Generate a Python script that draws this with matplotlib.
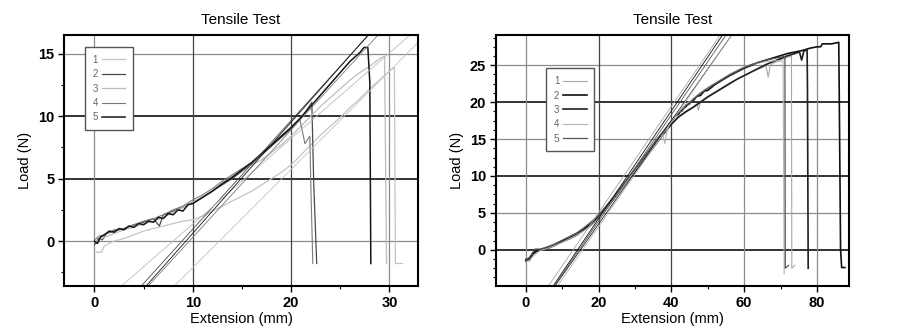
import matplotlib.pyplot as plt
from matplotlib.ticker import MultipleLocator, AutoMinorLocator

plt.rcParams['font.family'] = ['Liberation Sans', 'DejaVu Sans']

# ---- left test (short specimens) ----
l1_x = [0, 0.7, 1, 2, 3, 4, 5, 6, 7, 8, 9, 10, 11, 12, 13, 14, 15, 16, 17, 18, 19, 20, 21, 22, 23, 24, 25, 26, 27, 28, 29, 30, 30.5, 30.6, 31.3]
l1_y = [-0.9, -0.9, -0.4, 0.0, 0.2, 0.5, 0.8, 1.0, 1.2, 1.4, 1.6, 1.7, 2.0, 2.4, 2.8, 3.2, 3.6, 4.0, 4.5, 5.0, 5.5, 6.1, 6.9, 7.7, 8.5, 9.2, 9.9, 10.7, 11.4, 12.2, 12.9, 13.6, 13.9, -1.8, -1.8]
l2_x = [0, 0.4, 0.8, 1.2, 2, 3, 4, 5, 6, 6.6, 7, 8, 9, 10, 11, 12, 13, 14, 15, 16, 17, 18, 19, 20, 21, 21.6, 22.1, 22.3, 22.6]
l2_y = [-0.3, 0.2, 0.1, 0.6, 0.8, 1.0, 1.3, 1.5, 1.8, 1.2, 2.1, 2.4, 2.7, 3.1, 3.5, 4.0, 4.5, 5.0, 5.6, 6.2, 6.9, 7.6, 8.3, 9.0, 9.9, 10.5, 11.1, 4.5, -1.8]
l3_x = [0, 1, 2, 3, 4, 5, 6, 7, 8, 9, 10, 11, 12, 13, 14, 15, 15.5, 16, 17, 18, 19, 20, 21, 22, 23, 24, 25, 26, 27, 28, 29, 29.5, 29.7]
l3_y = [-0.1, 0.3, 0.6, 0.9, 1.1, 1.4, 1.6, 1.9, 2.3, 2.7, 3.1, 3.5, 4.0, 4.6, 5.2, 5.7, 6.0, 6.1, 6.5, 7.1, 7.7, 8.4, 9.2, 10.0, 10.8, 11.5, 12.2, 12.9, 13.5, 14.0, 14.6, 14.8, -1.8]
l4_x = [0, 0.5, 1, 2, 3, 4, 5, 6, 7, 8, 9, 10, 11, 12, 13, 14, 15, 16, 17, 18, 19, 20, 20.5, 20.9, 21.4, 21.9, 22.0, 22.2]
l4_y = [0.1, 0.4, 0.5, 0.9, 1.0, 1.3, 1.6, 1.8, 2.1, 2.5, 2.8, 3.3, 3.7, 4.2, 4.8, 5.3, 5.8, 6.3, 7.0, 7.7, 8.4, 9.1, 9.5, 9.7, 7.8, 8.4, 4.5, -1.8]
l5_x = [0, 0.3, 0.6, 1, 1.5, 2, 2.5, 3, 3.5, 4, 4.5, 5, 5.5, 6, 6.5, 7, 7.5, 8, 8.5, 9, 9.5, 10, 11, 12, 13, 14, 15, 16, 17, 18, 19, 20, 21, 22, 23, 24, 25, 26, 27, 27.4, 27.8, 28.0, 28.1]
l5_y = [0.0, -0.2, 0.3, 0.5, 0.8, 0.7, 1.0, 0.9, 1.2, 1.1, 1.4, 1.3, 1.6, 1.5, 1.9, 1.8, 2.2, 2.1, 2.5, 2.4, 2.9, 3.0, 3.5, 4.0, 4.6, 5.1, 5.7, 6.3, 7.0, 7.7, 8.4, 9.1, 9.9, 10.8, 11.7, 12.6, 13.5, 14.4, 15.1, 15.5, 15.5, 12.7, -1.8]
# straight fit lines: x where load = 0, and slope (N/mm)
l_fit_x0 = [12.7, 8.9, 8.0, 9.65, 9.3]
l_fit_slope = [0.787, 0.87, 0.685, 0.86, 0.89]

# ---- right test (long specimens) ----
r1_x = [0, 1, 2, 3, 4, 6, 8, 10, 12, 14, 16, 18, 20, 22, 24, 26, 28, 30, 32, 34, 36, 38, 40, 42, 44, 46, 47.0, 47.4, 48, 50, 52, 54, 56, 58, 60, 62, 64, 66, 66.6, 67.2, 68, 70, 72, 73.0, 73.1, 73.9]
r1_y = [-1.6, -1.5, -0.6, -0.2, 0.1, 0.4, 0.8, 1.3, 1.7, 2.2, 2.9, 3.5, 4.5, 5.7, 6.9, 8.2, 9.5, 10.8, 12.1, 13.4, 14.7, 16.0, 17.2, 18.1, 18.8, 19.4, 19.8, 18.9, 20.1, 20.8, 21.4, 22.0, 22.6, 23.1, 23.6, 24.1, 24.5, 24.9, 23.4, 25.0, 25.3, 25.7, 26.1, 26.3, -2.5, -2.1]
r2_x = [0, 0.5, 1, 1.5, 2, 3, 4, 6, 8, 10, 12, 14, 16, 18, 20, 22, 24, 26, 28, 30, 32, 34, 36, 38, 40, 41, 42, 43, 44, 45, 46, 47, 48, 49, 50, 52, 54, 56, 58, 60, 62, 64, 66, 68, 70, 72, 74, 76, 78, 80, 81, 81.5, 84, 86.0, 86.1, 86.5, 86.8, 87.7]
r2_y = [-1.5, -1.3, -1.4, -0.8, -0.4, -0.1, 0.0, 0.3, 0.7, 1.2, 1.6, 2.1, 2.8, 3.6, 4.6, 5.8, 7.0, 8.3, 9.6, 10.9, 12.2, 13.5, 14.9, 16.1, 17.4, 18.1, 18.4, 19.1, 19.4, 20.0, 20.2, 20.8, 20.9, 21.5, 21.6, 22.4, 23.0, 23.6, 24.1, 24.6, 25.0, 25.4, 25.7, 26.0, 26.3, 26.6, 26.8, 27.0, 27.3, 27.5, 27.5, 27.9, 27.9, 28.1, 23.0, 0.0, -2.4, -2.4]
r3_x = [0, 1, 2, 3, 4, 6, 8, 10, 12, 14, 16, 18, 20, 22, 24, 26, 28, 30, 32, 34, 36, 38, 40, 42, 44, 46, 48, 50, 52, 54, 56, 58, 60, 62, 64, 66, 68, 70, 72, 74, 75.2, 75.8, 76.4, 77.3, 77.4, 77.6]
r3_y = [-1.3, -1.2, -0.5, -0.3, 0.0, 0.2, 0.6, 1.1, 1.5, 2.0, 2.7, 3.4, 4.4, 5.6, 6.8, 8.1, 9.4, 10.6, 11.9, 13.2, 14.5, 15.8, 17.0, 18.0, 18.7, 19.3, 20.0, 20.7, 21.3, 21.9, 22.5, 23.1, 23.6, 24.1, 24.6, 25.1, 25.5, 25.9, 26.3, 26.6, 26.8, 25.7, 26.9, 27.1, 22.0, -2.5]
r4_x = [0, 1, 2, 3, 4, 6, 8, 10, 12, 14, 16, 18, 20, 22, 24, 26, 28, 30, 32, 34, 36, 37.6, 38.2, 38.8, 40, 42, 44, 46, 48, 50, 52, 54, 56, 58, 60, 62, 64, 66, 68, 70, 70.7, 71.0]
r4_y = [-1.7, -1.4, -0.9, -0.4, -0.1, 0.2, 0.6, 1.0, 1.5, 2.0, 2.6, 3.3, 4.3, 5.5, 6.8, 8.1, 9.4, 10.7, 12.0, 13.3, 14.6, 15.6, 14.4, 16.2, 17.6, 18.7, 19.7, 20.5, 21.3, 22.0, 22.6, 23.2, 23.8, 24.3, 24.8, 25.1, 25.3, 25.5, 25.6, 25.6, 25.5, -3.2]
r5_x = [0, 1, 2, 2.5, 4, 6, 8, 10, 12, 14, 16, 18, 20, 22, 24, 26, 28, 30, 32, 34, 36, 38, 40, 42, 43, 44, 45, 46, 48, 50, 52, 54, 56, 58, 60, 62, 64, 66, 68, 70, 71.2, 71.3, 72.2]
r5_y = [-1.4, -1.0, -0.3, 0.1, 0.1, 0.4, 0.8, 1.3, 1.8, 2.3, 3.0, 3.8, 4.7, 5.9, 7.1, 8.4, 9.7, 11.0, 12.3, 13.6, 14.9, 16.2, 17.5, 18.6, 18.8, 19.6, 19.7, 20.4, 21.2, 21.9, 22.5, 23.1, 23.7, 24.2, 24.7, 25.1, 25.4, 25.7, 25.9, 26.1, 26.2, -2.5, -2.1]
r_fit_x0 = [13.0, 14.2, 15.0, 15.6, 14.6]
r_fit_slope = [0.72, 0.73, 0.70, 0.71, 0.72]

labels = ['1', '2', '3', '4', '5']
l_colors = ['#c4c4c4', '#4a4a4a', '#bdbdbd', '#7a7a7a', '#151515']
l_widths = [0.9, 0.9, 0.9, 0.8, 1.1]
r_colors = ['#a8a8a8', '#101010', '#202020', '#b4b4b4', '#555555']
r_widths = [0.8, 1.2, 1.2, 0.8, 0.9]

fig = plt.figure(figsize=(9.04, 3.32), dpi=100)
ax1 = fig.add_axes([0.0708, 0.1386, 0.3916, 0.756])
ax2 = fig.add_axes([0.5483, 0.1386, 0.3912, 0.756])


def style_axes(ax, xmaj, ymaj, yminor, dark_y, dark_x):
    ax.xaxis.set_major_locator(MultipleLocator(xmaj))
    ax.xaxis.set_minor_locator(AutoMinorLocator(2))
    ax.yaxis.set_major_locator(MultipleLocator(ymaj))
    ax.yaxis.set_minor_locator(AutoMinorLocator(yminor))
    ax.tick_params(which='major', direction='out', length=4, width=1, labelsize=10.5, pad=3)
    ax.tick_params(which='minor', direction='out', length=2.5, width=0.8)
    for lab in ax.get_xticklabels() + ax.get_yticklabels():
        lab.set_fontweight('bold')
    for sp in ax.spines.values():
        sp.set_linewidth(1.5)
    for v in ax.get_yticks():
        if ax.get_ylim()[0] < v < ax.get_ylim()[1]:
            if v in dark_y:
                ax.axhline(v, color='#111111', lw=1.2, zorder=0)
            else:
                ax.axhline(v, color='#8c8c8c', lw=0.9, zorder=0)
    for v in ax.get_xticks():
        if ax.get_xlim()[0] < v < ax.get_xlim()[1]:
            ax.axvline(v, color='#444444' if v in dark_x else '#8c8c8c', lw=0.9, zorder=0)
    ax.set_title('Tensile Test', fontsize=11, pad=8)
    ax.set_xlabel('Extension (mm)', fontsize=10.5, labelpad=2)
    ax.set_ylabel('Load (N)', fontsize=10.5, labelpad=4)


# left
l_curves = [(l1_x, l1_y), (l2_x, l2_y), (l3_x, l3_y), (l4_x, l4_y), (l5_x, l5_y)]
for (xs, ys), c, w, lab in zip(l_curves, l_colors, l_widths, labels):
    ax1.plot(xs, ys, color=c, lw=w, label=lab)
for x0, k, c in zip(l_fit_x0, l_fit_slope, l_colors):
    ax1.axline((x0, 0), slope=k, color=c, lw=0.6)
ax1.set_xlim(-3.1, 32.9)
ax1.set_ylim(-3.6, 16.5)
style_axes(ax1, 10, 5, 2, [5, 10], [10, 20])

# right
r_curves = [(r1_x, r1_y), (r2_x, r2_y), (r3_x, r3_y), (r4_x, r4_y), (r5_x, r5_y)]
for (xs, ys), c, w, lab in zip(r_curves, r_colors, r_widths, labels):
    ax2.plot(xs, ys, color=c, lw=w, label=lab)
for x0, k, c in zip(r_fit_x0, r_fit_slope, r_colors):
    ax2.axline((x0, 0), slope=k, color=c, lw=0.6)
ax2.set_xlim(-8.3, 88.9)
ax2.set_ylim(-4.9, 29.1)
style_axes(ax2, 20, 5, 4, [0, 10, 20], [20, 40])

for ax, pos in [(ax1, (0.059, 0.952)), (ax2, (0.143, 0.867))]:
    leg = ax.legend(loc='upper left', bbox_to_anchor=pos, borderaxespad=0, fontsize=7,
                    markerfirst=False, handlelength=2.4, labelspacing=0.45,
                    fancybox=False, framealpha=1, edgecolor='#555555',
                    borderpad=0.8, handletextpad=0.4)
    leg.get_frame().set_linewidth(1.0)
    for t in leg.get_texts():
        t.set_color('#666666')

plt.savefig('out.png', dpi=100)
